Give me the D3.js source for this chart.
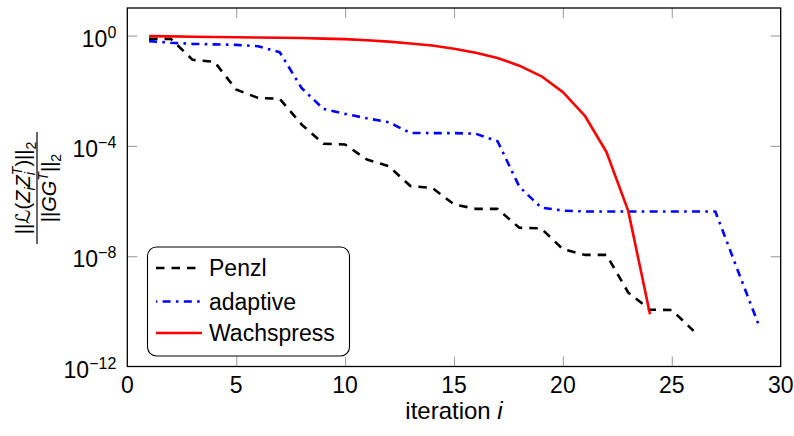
<!DOCTYPE html>
<html lang="en">
<head>
    <meta charset="UTF-8">
    <title>Residual history</title>
    <script src="https://d3js.org/d3.v7.min.js"></script>
    <style>
        body { margin: 0; background: #fff; }
        svg text { font-family: "Liberation Sans", "DejaVu Sans", sans-serif; fill: #000; }
    </style>
</head>
<body>
    <div id="chart"></div>

    <script>
        // Data (relative residual per iteration)
        const penzlIter = d3.range(1, 27);
        const penzl = [7.6e-1, 7.6e-1, 1.32e-1, 1.12e-1, 1.1e-2, 5.5e-3, 5.1e-3, 6.0e-4, 1.2e-4, 1.12e-4,
                       3.2e-5, 1.86e-5, 3.5e-6, 3.0e-6, 7.6e-7, 5.2e-7, 5.2e-7, 1.07e-7, 1.02e-7, 1.8e-8,
                       1.12e-8, 1.12e-8, 4.8e-10, 1.15e-10, 1.12e-10, 1.95e-11];

        const adaptiveIter = d3.range(1, 30);
        const adaptive = [6.3e-1, 5.5e-1, 5.0e-1, 4.8e-1, 4.6e-1, 4.1e-1, 2.5e-1, 1.26e-2, 2.2e-3, 1.45e-3,
                          1.0e-3, 7.2e-4, 2.95e-4, 2.9e-4, 2.9e-4, 2.75e-4, 1.48e-4, 3.3e-6, 5.8e-7, 4.5e-7,
                          4.2e-7, 4.2e-7, 4.2e-7, 4.2e-7, 4.2e-7, 4.2e-7, 4.2e-7, 3.5e-9, 3.1e-11];

        const wachIter = d3.range(1, 25);
        const wachspress = [9.55e-1, 9.33e-1, 9.12e-1, 8.91e-1, 8.71e-1, 8.51e-1, 8.32e-1, 8.13e-1, 7.76e-1, 7.41e-1,
                            6.76e-1, 6.03e-1, 5.13e-1, 4.37e-1, 3.31e-1, 2.4e-1, 1.55e-1, 8.1e-2, 3.4e-2, 8.9e-3,
                            1.26e-3, 6.0e-5, 4.4e-7, 7.9e-11];

        const xTicks = [0, 5, 10, 15, 20, 25, 30];
        const yTicks = [1e0, 1e-4, 1e-8, 1e-12];
        const yTickExp = ["0", "\u22124", "\u22128", "\u221212"];

        const seriesNames = ["Penzl", "adaptive", "Wachspress"];

        const width = 794, height = 436;
        const margin = { top: 8, right: 13.3, bottom: 69.5, left: 127.3 };

        const svg = d3.select("#chart").append("svg")
            .attr("width", width)
            .attr("height", height);

        const x = d3.scaleLinear().domain([0, 30]).range([margin.left, width - margin.right]);
        const y = d3.scaleLog().domain([1e-12, 1e1]).range([height - margin.bottom, margin.top]);

        const tickColor = "#a8a8a8";

        // inner ticks on all four sides
        function styleTicks(g) {
            g.select(".domain").remove();
            g.selectAll(".tick line").attr("stroke", tickColor).attr("stroke-width", 1.2);
        }
        const innerX = xTicks.filter(d => d > 0 && d < 30);
        const innerY = yTicks.filter(d => d > 1e-12);

        svg.append("g")
            .attr("transform", "translate(0," + y.range()[0] + ")")
            .call(d3.axisBottom(x).tickValues(innerX).tickSize(-10).tickFormat(""))
            .call(styleTicks);
        svg.append("g")
            .attr("transform", "translate(0," + y.range()[1] + ")")
            .call(d3.axisTop(x).tickValues(innerX).tickSize(-10).tickFormat(""))
            .call(styleTicks);
        svg.append("g")
            .attr("transform", "translate(" + x.range()[0] + ",0)")
            .call(d3.axisLeft(y).tickValues(innerY).tickSize(-10).tickFormat(""))
            .call(styleTicks);
        svg.append("g")
            .attr("transform", "translate(" + x.range()[1] + ",0)")
            .call(d3.axisRight(y).tickValues(innerY).tickSize(-10).tickFormat(""))
            .call(styleTicks);

        // x tick labels
        svg.append("g").selectAll("text")
            .data(xTicks)
            .enter()
            .append("text")
            .attr("x", d => x(d))
            .attr("y", 393)
            .attr("text-anchor", "middle")
            .style("font-size", "23px")
            .text(d => d);

        // y tick labels: 10^k
        const yLab = svg.append("g").selectAll("text")
            .data(yTicks)
            .enter()
            .append("text")
            .attr("x", x.range()[0] - 11)
            .attr("y", d => y(d) + 11)
            .attr("text-anchor", "end")
            .style("font-size", "23px");
        yLab.append("tspan").text("10");
        yLab.append("tspan")
            .attr("dy", -9)
            .style("font-size", "16px")
            .text((d, i) => yTickExp[i]);

        // series
        const line = d3.line()
            .x(d => x(d[0]))
            .y(d => y(d[1]));

        const series = [
            { name: seriesNames[0], data: d3.zip(penzlIter, penzl), color: "#000", dash: "8.5,7" },
            { name: seriesNames[1], data: d3.zip(adaptiveIter, adaptive), color: "#0000ff", dash: "8,5.3,2.6,5.3" },
            { name: seriesNames[2], data: d3.zip(wachIter, wachspress), color: "#ff0000", dash: null }
        ];

        svg.append("g").selectAll("path")
            .data(series)
            .enter()
            .append("path")
            .attr("d", d => line(d.data))
            .attr("fill", "none")
            .attr("stroke", d => d.color)
            .attr("stroke-width", 2.6)
            .attr("stroke-linejoin", "round")
            .attr("stroke-dasharray", d => d.dash);

        // plot frame
        svg.append("rect")
            .attr("x", x.range()[0])
            .attr("y", y.range()[1])
            .attr("width", x.range()[1] - x.range()[0])
            .attr("height", y.range()[0] - y.range()[1])
            .attr("fill", "none")
            .attr("stroke", "#000")
            .attr("stroke-width", 1.3);

        // legend
        const legend = svg.append("g");
        legend.append("rect")
            .attr("x", 147.5).attr("y", 247)
            .attr("width", 202).attr("height", 109)
            .attr("rx", 9)
            .attr("fill", "#fff")
            .attr("stroke", "#000")
            .attr("stroke-width", 1.1);
        const rows = [268, 301.5, 333];
        series.forEach((s, i) => {
            legend.append("line")
                .attr("x1", 156).attr("x2", 202)
                .attr("y1", rows[i]).attr("y2", rows[i])
                .attr("stroke", s.color)
                .attr("stroke-width", 2.6)
                .attr("stroke-dasharray", s.dash)
                .attr("stroke-dashoffset", i === 1 ? 14.6 : 0);
            legend.append("text")
                .attr("x", 209)
                .attr("y", rows[i] + 8)
                .style("font-size", "23px")
                .text(s.name);
        });

        // x axis label
        const xl = svg.append("text")
            .attr("x", (x.range()[0] + x.range()[1]) / 2)
            .attr("y", 419)
            .attr("text-anchor", "middle")
            .style("font-size", "24px");
        xl.append("tspan").text("iteration ");
        xl.append("tspan").style("font-style", "italic").text("i");

        // y axis label: ||L(Z_i Z_i^T)||_2 / ||GG^T||_2
        const yl = svg.append("g").attr("transform", "translate(37,188) rotate(-90)");
        yl.append("line")
            .attr("x1", -56).attr("x2", 56)
            .attr("stroke", "#000").attr("stroke-width", 1.2);

        const num = yl.append("text")
            .attr("y", -7)
            .attr("text-anchor", "middle")
            .style("font-size", "20px");
        num.append("tspan").text("||\u2112(");
        num.append("tspan").style("font-style", "italic").text("Z");
        num.append("tspan").style("font-style", "italic").style("font-size", "14px").attr("dy", 5).text("i");
        num.append("tspan").style("font-style", "italic").attr("dy", -5).text("Z");
        num.append("tspan").style("font-style", "italic").style("font-size", "14px").attr("dy", 5).text("i");
        num.append("tspan").style("font-style", "italic").style("font-size", "14px").attr("dx", -3).attr("dy", -13).text("T");
        num.append("tspan").attr("dy", 8).text(")||");
        num.append("tspan").style("font-size", "14px").attr("dy", 6).text("2");

        const den = yl.append("text")
            .attr("y", 19)
            .attr("text-anchor", "middle")
            .style("font-size", "20px");
        den.append("tspan").text("||");
        den.append("tspan").style("font-style", "italic").text("GG");
        den.append("tspan").style("font-style", "italic").style("font-size", "14px").attr("dy", -8).text("T");
        den.append("tspan").attr("dy", 8).text("||");
        den.append("tspan").style("font-size", "14px").attr("dy", 5).text("2");
    </script>
</body>
</html>
